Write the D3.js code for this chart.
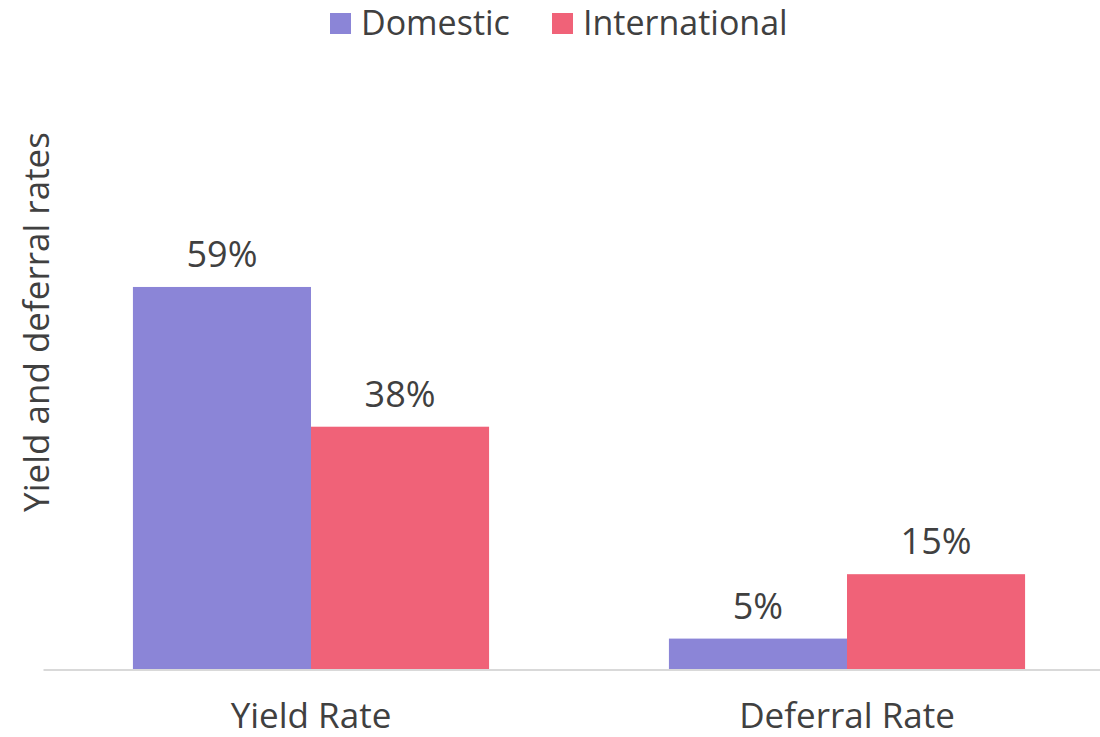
<!DOCTYPE html>
<html>
<head>
<meta charset="utf-8">
<script src="https://cdn.jsdelivr.net/npm/d3@7"></script>
<style>
  body { margin: 0; background: #fff; }
  text { font-family: "Open Sans", "Noto Sans", sans-serif; fill: #404040; }
</style>
</head>
<body>
<div id="chart"></div>
<script>
var categories = ["Yield Rate", "Deferral Rate"];
var seriesNames = ["Domestic", "International"];
var domesticValues = [0.594, 0.048];
var internationalValues = [0.377, 0.148];
var seriesColors = ["#8b85d7", "#f06278"];

var W = 1100, H = 737;
var baseY = 669.5;

// svg container
var svg = d3.select("#chart").append("svg")
  .attr("width", W)
  .attr("height", H);

var rows = categories.map(function(c, i) {
  return { cat: c, vals: [domesticValues[i], internationalValues[i]] };
});

var x0 = d3.scaleBand().domain(categories).range([43, 1115]).padding(0);
var x1 = d3.scaleBand().domain(seriesNames).range([0, x0.bandwidth()])
  .paddingInner(0).paddingOuter(0.505);
var y = d3.scaleLinear().domain([0, 0.7]).range([baseY, baseY - 6.44 * 70]);

// bars
var groups = svg.append("g").selectAll("g")
  .data(rows)
  .enter().append("g")
    .attr("transform", function(d) { return "translate(" + x0(d.cat) + ",0)"; });

groups.selectAll("rect")
  .data(function(d) { return d.vals.map(function(v, j) { return { s: seriesNames[j], v: v, j: j }; }); })
  .enter().append("rect")
    .attr("x", function(d) { return x1(d.s); })
    .attr("y", function(d) { return y(d.v); })
    .attr("width", x1.bandwidth())
    .attr("height", function(d) { return baseY - y(d.v); })
    .style("fill", function(d) { return seriesColors[d.j]; });

// value labels
groups.selectAll("text.val")
  .data(function(d) { return d.vals.map(function(v, j) { return { s: seriesNames[j], v: v }; }); })
  .enter().append("text")
    .classed("val", true)
    .attr("x", function(d) { return x1(d.s) + x1.bandwidth() / 2; })
    .attr("y", function(d) { return y(d.v) - 20; })
    .attr("text-anchor", "middle")
    .style("font-size", "36px")
    .text(function(d) { return d3.format(".0%")(d.v); });

// x axis
var xAxis = svg.append("g")
  .attr("transform", "translate(0," + baseY + ")")
  .call(d3.axisBottom(x0).tickSize(0).tickPadding(34));
xAxis.select(".domain").style("stroke", "#d9d9d9").style("stroke-width", 2);
xAxis.selectAll("text").style("font-size", "35px").style("fill", "#404040")
  .style("font-family", "\"Open Sans\", \"Noto Sans\", sans-serif");

// y axis title
svg.append("text")
  .attr("transform", "translate(49,322) rotate(-90)")
  .attr("text-anchor", "middle")
  .style("font-size", "35px")
  .text("Yield and deferral rates");

// legend
var legendX = [330, 552];
var legend = svg.append("g").selectAll("g")
  .data(seriesNames)
  .enter().append("g")
    .attr("transform", function(d, i) { return "translate(" + legendX[i] + ",13)"; });
legend.append("rect")
  .attr("width", 21).attr("height", 21)
  .style("fill", function(d, i) { return seriesColors[i]; });
legend.append("text")
  .attr("x", 31).attr("y", 22)
  .style("font-size", "34px")
  .text(function(d) { return d; });
</script>
</body>
</html>
